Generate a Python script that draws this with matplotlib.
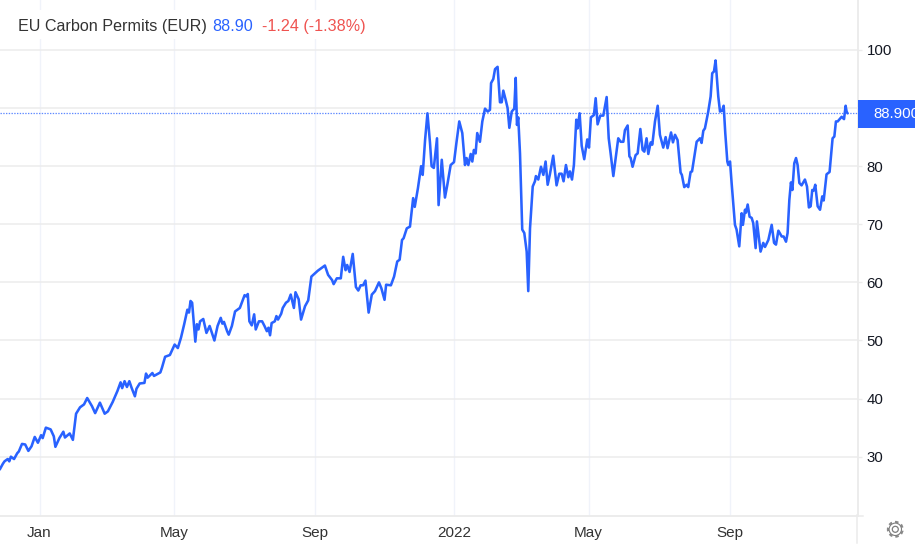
import matplotlib
matplotlib.use("Agg")
import matplotlib.pyplot as plt
from matplotlib.lines import Line2D
from matplotlib.patches import Rectangle, Circle

plt.rcParams['font.family'] = ['Liberation Sans', 'DejaVu Sans']

# x is the trading-session number counted from the first session of 2021
sessions = [-25,-23,-22,-20,-19,-18,-16,-14,-13,-11,-9,-7,-5,-3,-1,1,2,4,7,9,10,12.5,15,16,19,21,23,25.5,28,30,33,35,38,41,43,46,49,51,52,53.5,55,56.5,58,60,61,63,66,67,68,71,72,76,77,79,82,85,87,89,91,93,94,95,96,98,99,100,101,103,105,107,110,112,114,115,116,118,119,121,123,126,129,130,131,132,133.5,135,136,138,140,141.5,143,144,145,146,148,149,150,152,153,155,156.5,158,160,161,163,164.5,167,169,171,173,175,177,179.5,181.5,184,185,187,189.5,191,192.5,193.5,195,197,199,200.5,202,203.5,205,207,209,211,213.5,215,217,218,221,223,225,226.5,228,229,231,233,235,236,238,240,241,242.5,244,245.6,246.6,248,250,251,253,255,256.5,258.6,
            260.7,262.3,264,265.9,267.6,268.6,269.7,271.2,272.2,273.2,274.3,275.3,277,278.5,280.2,281.9,283.3,284,285.4,286.5,288.1,289.6,290.7,291.7,293.2,294.4,295.5,297,298.6,299.5,300.3,301.1,302.2,303.6,304.9,306.4,307.4,308.5,310.2,311.6,312.2,313.7,315.4,316.9,318.3,319.6,321,323.1,325.2,326.9,328.4,329.6,331.1,332.6,333.6,334.9,336.1,337.6,338.4,339.7,341,342.6,344.5,345.6,346.8,348.7,349.8,351,352.7,354.6,356.7,358,359.2,360.9,362.4,364,365.5,367.2,368.2,369.9,371,371.8,373,374.9,376.2,377.9,379.3,380.4,381.8,382.9,384.4,385.4,387.1,388.8,390.2,392.3,393.8,395,397.2,398.4,399.7,401.3,403.2,404,405.5,407,408,409.5,410.4,413.3,415.4,416.4,417.5,418.5,420.6,422.1,423.1,424.2,425.2,426.9,428,429.4,430.3,431.3,432.6,433.2,434.3,435.3,437.4,438.4,440.1,441.6,442.4,443.7,444.3,445.4,446.6,447.9,448.9,450.4,451.2,453.5,455.2,456.3,458.4,460.5,462,463.2,464.7,466.8,468,469.5,470.5,471.6,472.6,473.5,474.7,475.8,476.8,477.9,479.3,481.4,482.7,483.9,485,486,486.9,487.9,489.4,490.9,492.3,493.2,495,496.9,498.8,499.9,500.9,502,504.5,506,507,507.6,508.2]
prices = [27.8,28.8,29.2,29.6,29.2,30.0,29.6,30.6,30.9,32.2,32.1,31,31.8,33.4,32.4,33.7,33.2,35,34.7,33.5,31.7,33.2,34.3,33.3,34,32.9,37.4,38.5,39,40.1,38.7,37.5,39.3,37.4,37.8,39.4,41.3,42.8,41.8,43,42,43,41.8,40.4,41.7,42.6,42.7,44.3,43.6,44.4,43.9,44.5,45.3,47.2,47.5,49.3,48.7,50.5,52.8,55.3,54.8,56.8,56.5,49.8,52.8,51.9,53.3,53.7,51.3,52.5,50,52.5,53.9,52.9,53.2,51.6,51,52.5,55,55.6,57.8,57.6,58,53.3,52.6,54.5,51.9,53.3,53.3,52.5,51.6,52.2,50.9,53,53.3,54.2,53.6,54.6,55.6,56.5,56.8,57.9,55.6,58.3,57.1,53.6,55.9,56.9,61,61.5,62,62.4,62.9,61.3,60.4,59.7,60.7,60.7,64.4,62.1,63,61.8,64.9,59.2,58.6,59.5,59.5,60.3,54.8,57.9,58.5,60,59,57,59.6,59.5,61,63.6,63.9,67.3,67.6,69.3,69.6,74.5,73,76.2,80,78.5,84.5,89.1,84,80,79.7,84.8,73.3,81.1,74.6,76.8,80.2,
          80.7,84.2,87.7,85.7,80.2,81.4,80.2,82.1,80.8,82.8,82.2,85.7,84.2,87.7,89.9,89.4,89.7,94.3,95,96.7,97.1,91,91,93,91.4,90,86.6,89.4,89.9,95.2,87.1,88.4,82.2,69.1,68.5,65.3,58.5,69.3,76.5,77.4,78.3,77.7,79.9,78.5,80.8,76.8,78.6,81.8,76.7,78.7,78.7,77.4,80.2,78.1,79.1,77.7,80.2,88,86.5,89.1,83.5,81.2,84.6,83.2,88.4,88.8,91.7,87.2,88.7,88.7,91.9,84.8,82.2,78.3,81.4,84.8,84.2,84.2,86.2,87,81.7,81.4,79.9,81.9,82.2,86.4,82.8,82.5,84.8,82.1,84.1,83.7,87.7,90.4,85.4,83.2,85,83.1,85.8,84.1,85.4,84.5,78.9,78.5,76.4,76.8,76.4,79,79.1,84.2,84.8,84,86.1,86.5,89.4,92,96,96.3,98.2,92,89.4,89.6,90.4,85.7,80.8,80.2,80.8,77.1,69.9,69.1,66.2,71.9,69.9,72.5,72,73.4,71.3,71.1,70.2,65.9,70.5,65.3,66.8,66.1,67.3,69.9,66.8,66.5,68.9,67.9,67.9,67,68.5,74.2,77.2,75.9,80.5,81.4,80.2,77.1,76.7,77.7,76.5,72.9,73.1,75.9,75.8,76.8,73.1,72.5,74.8,74.1,78.6,79,84.8,85.1,87.7,87.7,88.5,88.1,90.4,89.4,89.1]
last_line_level = 89.1
y_ticks = [30, 40, 50, 60, 70, 80, 90, 100]
visible_y_labels = ['30', '40', '50', '60', '70', '80', '', '100']
x_tick_sessions = [0, 84.9, 173, 261, 345.3, 434]
x_tick_labels = ['Jan', 'May', 'Sep', '2022', 'May', 'Sep']
title_name = 'EU Carbon Permits (EUR)'
title_value = '88.90'
title_change = '-1.24 (-1.38%)'
tag_text = '88.900'

W, H = 915, 554
BLUE = '#2962ff'
RED = '#ef5350'
HGRID = '#ececec'
VGRID = '#f0f3fa'
AXIS = '#ebebeb'

fx = lambda p: p / W
fy = lambda p: 1 - p / H

fig = plt.figure(figsize=(W / 100, H / 100), dpi=100, facecolor='white')
ax = fig.add_axes([0, fy(515.5), 857.5 / W, 515.5 / H])
ax.set_xlim((0 - 39.5) / 1.59, (857.5 - 39.5) / 1.59)
ax.set_ylim(19.88, 108.6)

ax.set_axisbelow(True)
ax.yaxis.tick_right()
ax.set_yticks(y_ticks)
ax.set_yticklabels(visible_y_labels)
ax.set_xticks(x_tick_sessions)
ax.set_xticklabels(x_tick_labels)
ax.grid(axis='y', color=HGRID, lw=1.1)
ax.grid(axis='x', color=VGRID, lw=1.0)
ax.tick_params(axis='y', length=3, width=1, color=HGRID, pad=3.4,
               labelsize=10.8, labelcolor='#131722')
ax.tick_params(axis='x', length=0, pad=7.5, labelsize=11, labelcolor='#333333')
for side in ('top', 'left'):
    ax.spines[side].set_visible(False)
for side in ('right', 'bottom'):
    ax.spines[side].set_color(AXIS)
    ax.spines[side].set_linewidth(1.3)

ax.axhline(last_line_level, color=BLUE, lw=0.9, ls=(0, (1.1, 1.1)), alpha=0.75, zorder=3)
ax.plot(sessions, prices, color=BLUE, lw=1.85, solid_joinstyle='round',
        solid_capstyle='round', zorder=4)

# header strip
fig.add_artist(Rectangle((fx(14), fy(39)), (370 - 14) / W, 29 / H,
                         transform=fig.transFigure, fc='white', ec='none', zorder=5))
header_y = fy(26.5)
kw = dict(va='center', ha='left', fontsize=11.6, zorder=6)
fig.text(fx(18), header_y, title_name, color='#333333', **kw)
fig.text(fx(212), header_y, title_value, color=BLUE, **kw)
fig.text(fx(261.5), header_y, title_change, color=RED, **kw)

# last-price tag
fig.add_artist(Rectangle((fx(858), fy(128)), (W - 858) / W, 28 / H,
                         transform=fig.transFigure, fc=BLUE, ec='none', zorder=5))
fig.text(fx(873), fy(114.5), tag_text, color='white', va='center', ha='left',
         fontsize=10.8, zorder=6)

# axis extensions below and right of the plot
fig.add_artist(Line2D([fx(857.3), fx(857.3)], [fy(515), fy(543)], color=AXIS, lw=1.1))
fig.add_artist(Line2D([fx(857), fx(863)], [fy(515.5), fy(515.5)], color=AXIS, lw=1.1))

# settings gear icon
gx, gy = 895.3, H - 529.3
fig.add_artist(Circle((gx, gy), 7.4, transform=None, fc='none', ec='#8a8a8a',
                      lw=1.5, ls=(0, (1.7, 1.5))))
fig.add_artist(Circle((gx, gy), 6.2, transform=None, fc='white', ec='#7d7d7d', lw=0.8))
fig.add_artist(Circle((gx, gy), 3.0, transform=None, fc='white', ec='#7d7d7d', lw=0.9))

fig.savefig('out.png', dpi=100, facecolor='white')
